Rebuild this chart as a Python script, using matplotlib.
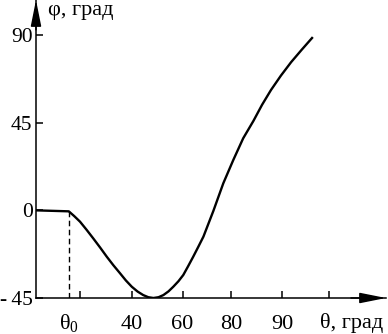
import matplotlib
matplotlib.use("Agg")
import matplotlib.pyplot as plt

plt.rcParams['font.family'] = ['Liberation Serif', 'DejaVu Serif']

# curve: theta (deg) -> phi (deg)
THETA = [2.4, 15.2, 17.3, 19.6, 22.2, 24.8, 27.5, 30.1, 32.7, 35.3, 37.6, 39.9,
         42.2, 44.4, 46.4, 48.4, 50.4, 52.3, 54.3, 56.2, 58.2, 60.1, 62.0,
         64.0, 66.0, 68.0, 71.9, 75.8, 79.7, 83.6, 87.6, 91.0, 94.5, 98.4,
         102.4, 106.5, 110.6]
PHI = [0.0, -0.5, -2.9, -5.8, -10.0, -14.4, -19.1, -23.8, -28.2, -32.3, -36.0,
       -39.2, -41.7, -43.5, -44.6, -45.0, -44.6, -43.5, -41.6, -39.2, -36.4,
       -33.2, -28.7, -23.8, -18.7, -13.5, -0.3, 13.9, 25.8, 37.0, 45.9, 54.2,
       61.8, 69.2, 76.1, 82.4, 88.5]

THETA0 = 15.2
X_TICKS = [19.8, 40, 59.8, 78.8, 98.8, 117.3]
X_LABELS = ['', '40', '60', '80', '90', '']
Y_TICKS = [-45, 0, 45, 90]
Y_LABELS = ['-\u200945', '0', '45', '90']

FS = 16


def main():
    fig = plt.figure(figsize=(3.88, 3.34), dpi=100)
    ax = fig.add_axes([36 / 388, 1 - 298 / 334, 350 / 388, 298 / 334])

    ax.plot(THETA, PHI, color='black', lw=1.7, solid_joinstyle='round')
    ax.plot([THETA0, THETA0], [-45, PHI[1]], color='black', lw=1.0,
            dashes=(4, 2.5))

    ax.set_xlim(2.35, 139.6)
    ax.set_ylim(-45, 108)

    for side in ('top', 'right'):
        ax.spines[side].set_visible(False)
    for side in ('left', 'bottom'):
        ax.spines[side].set_linewidth(1.1)

    ax.set_xticks(X_TICKS, X_LABELS)
    ax.set_yticks(Y_TICKS, Y_LABELS)
    ax.tick_params(axis='x', direction='in', length=5, width=1.1, pad=12,
                   labelsize=FS)
    ax.tick_params(axis='y', direction='in', length=5, width=1.1, pad=2.5,
                   labelsize=15.5)

    ax.text(THETA0, -0.048, r'$\mathregular{θ_0}$', transform=ax.get_xaxis_transform(),
            ha='center', va='top', fontsize=FS)

    # arrow heads
    arrow = dict(arrowstyle='-|>,head_length=1.6,head_width=0.32', color='black',
                 lw=1.1, shrinkA=0, shrinkB=0)
    ax.annotate('', xy=(1, 0), xytext=(0.9, 0), xycoords='axes fraction',
                arrowprops=arrow, annotation_clip=False)
    ax.annotate('', xy=(0, 1), xytext=(0, 0.9), xycoords='axes fraction',
                arrowprops=arrow, annotation_clip=False)

    ax.text(0.034, 0.966, 'φ, град', transform=ax.transAxes, ha='left',
            va='center', fontsize=FS)
    ax.text(0.811, -0.084, 'θ, град', transform=ax.transAxes, ha='left',
            va='center', fontsize=FS)

    fig.savefig('out.png', dpi=100)


if __name__ == '__main__':
    main()
